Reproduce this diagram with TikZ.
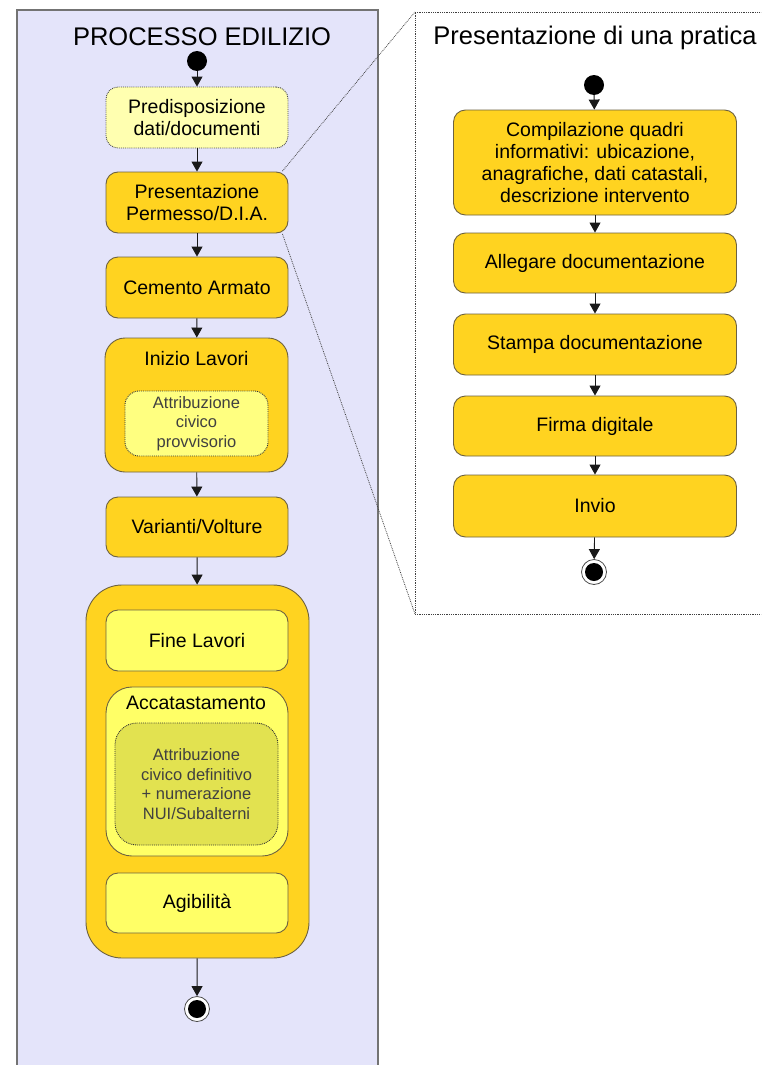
\documentclass[tikz,border=0pt]{standalone}
\usepackage{fontspec}
\setmainfont{Liberation Sans}
\usetikzlibrary{arrows.meta}
\definecolor{lav}{HTML}{E4E4FA}
\definecolor{orng}{HTML}{FFD320}
\definecolor{ylw}{HTML}{FFFF66}
\definecolor{paley}{HTML}{FFFFB0}
\definecolor{innery}{HTML}{FFFF80}
\definecolor{olivey}{HTML}{E2E250}
\definecolor{edge}{HTML}{6E6240}
\tikzset{
  box/.style={draw=edge, line width=0.9pt, rounded corners=12pt, align=center, inner sep=0pt,
    font=\fontsize{19.5}{22}\selectfont},
  obox/.style={box, fill=orng},
  ybox/.style={box, fill=ylw},
  dotbox/.style={draw=black!80, densely dotted, line width=0.9pt, rounded corners=14pt, align=center, inner sep=0pt,
    font=\fontsize{16.5}{19.5}\selectfont, text=black!75},
  startdot/.style={circle, fill=black, minimum size=20pt, inner sep=0pt},
  enddot/.style={circle, draw=black!70, line width=0.8pt, fill=white, minimum size=25pt, inner sep=0pt,
    path picture={\fill[black] (path picture bounding box.center) circle (9pt);}},
  arr/.style={-{Triangle[length=10pt,width=11pt]}, line width=0.9pt, black!90},
  zoomline/.style={densely dotted, line width=0.8pt, black!75},
  ttl/.style={font=\fontsize{25.5}{28}\selectfont}
}
\begin{document}
\begin{tikzpicture}[x=1pt,y=-1pt]
\useasboundingbox (0,0) rectangle (761,1065);
\clip (0,0) rectangle (761,1065);
% left panel
\draw[fill=lav, draw=black!55, line width=1.6pt] (17,10) rectangle (378,1080);
\node[ttl] (t1) at (202,37) {PROCESSO EDILIZIO};
% right panel
\draw[zoomline, fill=white] (415,12) -- (775,12) -- (775,614) -- (415,614) -- cycle;
\coordinate (rtl) at (415,12);
\coordinate (rbl) at (415,614);
\node[ttl] (t2) at (595,38) {Presentazione di una pratica};

% left flow
\node[startdot] (s1) at (197,61) {};
\node[box, fill=paley, draw=black!70, densely dotted, minimum width=182pt, minimum height=61pt] (pred) at (197,117.5) {Predisposizione\\dati/documenti};
\node[obox, minimum width=182pt, minimum height=61pt] (pres) at (197,202.5) {Presentazione\\Permesso/D.I.A.};
\node[obox, minimum width=182pt, minimum height=61pt] (cem) at (197,287.5) {Cemento Armato};
\node[obox, rounded corners=20pt, minimum width=183pt, minimum height=134pt] (ini) at (196.5,405) {};
\node[font=\fontsize{19.5}{22}\selectfont] (init) at (196.5,359) {Inizio Lavori};
\node[dotbox, fill=innery, minimum width=143pt, minimum height=65pt] (in1) at (196.5,423.5) {Attribuzione\\civico\\provvisorio};
\node[obox, minimum width=182pt, minimum height=60pt] (var) at (197,527) {Varianti/Volture};
\node[obox, rounded corners=36pt, minimum width=223pt, minimum height=373pt] (big) at (197.5,771.5) {};
\node[ybox, minimum width=182pt, minimum height=61pt] (fine) at (197,640.5) {Fine Lavori};
\node[ybox, rounded corners=26pt, minimum width=182pt, minimum height=169pt] (acc) at (197,771.5) {};
\node[font=\fontsize{19.5}{22}\selectfont] (acct) at (196,703) {Accatastamento};
\node[dotbox, fill=olivey, rounded corners=22pt, minimum width=163pt, minimum height=122pt] (in2) at (196.5,784) {Attribuzione\\civico definitivo\\+ numerazione\\NUI/Subalterni};
\node[ybox, minimum width=182pt, minimum height=60pt] (agi) at (197,903) {Agibilità};
\node[enddot] (e1) at (197,1009) {};

\draw[arr] (s1) -- (pred);
\draw[arr] (pred) -- (pres);
\draw[arr] (pres) -- (cem);
\draw[arr] (cem) -- (ini);
\draw[arr] (ini) -- (var);
\draw[arr] (var) -- (big);
\draw[arr] (big) -- (e1);

% right flow
\node[startdot] (s2) at (594,85) {};
\node[obox, minimum width=283pt, minimum height=105pt] (comp) at (595,162.5) {Compilazione quadri\\informativi: ubicazione,\\anagrafiche, dati catastali,\\descrizione intervento};
\node[obox, minimum width=283pt, minimum height=60pt] (alle) at (595,263) {Allegare documentazione};
\node[obox, minimum width=283pt, minimum height=61pt] (stam) at (595,344.5) {Stampa documentazione};
\node[obox, minimum width=283pt, minimum height=60pt] (firm) at (595,426) {Firma digitale};
\node[obox, minimum width=283pt, minimum height=62pt] (invi) at (595,506) {Invio};
\node[enddot] (e2) at (594,572) {};

\draw[arr] (s2) -- (comp);
\draw[arr] (comp) -- (alle);
\draw[arr] (alle) -- (stam);
\draw[arr] (stam) -- (firm);
\draw[arr] (firm) -- (invi);
\draw[arr] (invi) -- (e2);

% zoom lines
\draw[zoomline] ([xshift=-6pt,yshift=0.5pt]pres.north east) -- (rtl);
\draw[zoomline] ([xshift=-6pt,yshift=-0.5pt]pres.south east) -- (rbl);
\end{tikzpicture}
\end{document}
